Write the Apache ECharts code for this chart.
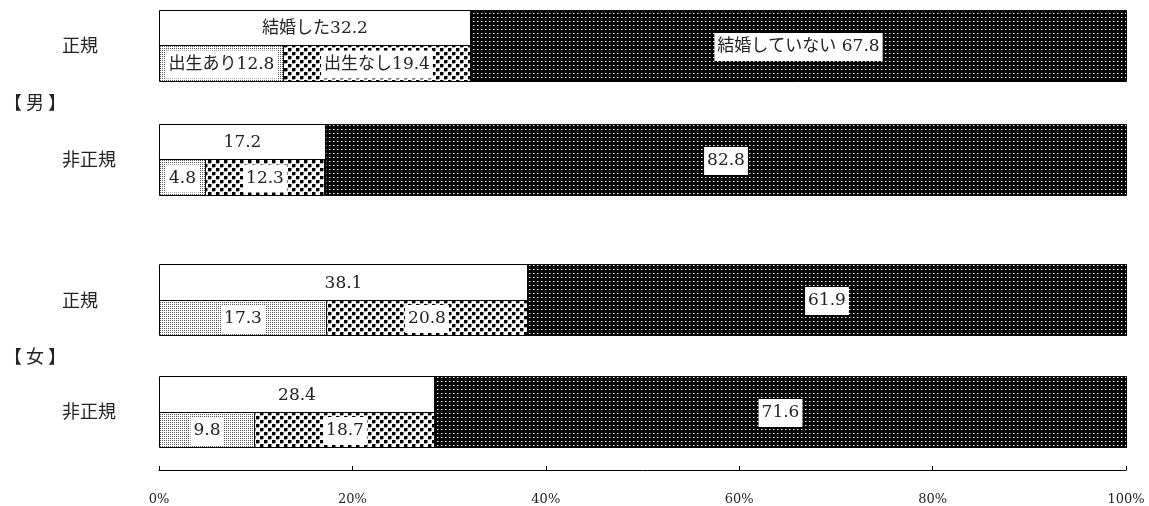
<!DOCTYPE html>
<html>
<head>
<meta charset="utf-8">
<script src="https://cdn.jsdelivr.net/npm/echarts@6/dist/echarts.min.js"></script>
<style>
html,body{margin:0;padding:0;background:#fff;}
#chart{width:1149px;height:506px;}
</style>
</head>
<body>
<div id="chart"></div>
<script>
// ---- data ----
const categories = ['正規', '非正規', '正規', '非正規'];
const sexLabels = ['【 男 】', '【 女 】'];
const segmentNames = ['結婚した', '出生あり', '出生なし', '結婚していない'];
const married = [32.2, 17.2, 38.1, 28.4];
const birthYes = [12.8, 4.8, 17.3, 9.8];
const birthNo = [19.4, 12.3, 20.8, 18.7];
const notMarried = [67.8, 82.8, 61.9, 71.6];
const xTickLabels = ['0%', '20%', '40%', '60%', '80%', '100%'];

// ---- layout (row units on hidden y axis) ----
const groupTop = [0, 3.215, 7.19, 10.35];
const FONT = '"DejaVu Serif","Noto Sans CJK JP",serif';
const LFONT = '"Noto Sans CJK JP",sans-serif';

function makePattern(w, h, bg, rects) {
  const c = document.createElement('canvas');
  c.width = w; c.height = h;
  const ctx = c.getContext('2d');
  ctx.fillStyle = bg; ctx.fillRect(0, 0, w, h);
  rects.forEach(r => { ctx.fillStyle = r[4]; ctx.fillRect(r[0], r[1], r[2], r[3]); });
  return { image: c, repeat: 'repeat' };
}
const patWhite = '#ffffff';
const patStipple = makePattern(2, 2, '#ffffff', [[0, 0, 1, 1, '#555']]);
const patCoarse = makePattern(8, 8, '#ffffff', [[0, 0, 3, 3, '#000'], [4, 4, 3, 3, '#000'], [3, 0, 1, 3, '#888'], [7, 4, 1, 3, '#888'], [0, 3, 3, 1, '#aaa'], [4, 7, 3, 1, '#aaa']]);
const patDark = makePattern(4, 4, '#000000', [[1, 1, 1, 1, '#fff'], [2, 1, 1, 1, '#777']]);
const fills = [patWhite, patStipple, patCoarse, patDark];

// segments: [start, end, group, rowStart, rowEnd, segIndex, value]
function buildSegments(idx) {
  const out = [];
  categories.forEach((c, g) => {
    let s, e, r0, r1, v;
    if (idx === 0) { s = 0; v = married[g]; e = v; r0 = 0; r1 = 1; }
    else if (idx === 1) { s = 0; v = birthYes[g]; e = v; r0 = 1; r1 = 2; }
    else if (idx === 2) { s = birthYes[g]; v = birthNo[g]; e = s + v; r0 = 1; r1 = 2; }
    else { v = notMarried[g]; s = 100 - v; e = 100; r0 = 0; r1 = 2; }
    out.push([s, e, g, r0, r1, idx, v]);
  });
  return out;
}

function labelText(segIdx, g, v) {
  const num = v.toFixed(1);
  if (g !== 0) return num;
  if (segIdx === 3) return segmentNames[segIdx] + ' ' + num;
  return segmentNames[segIdx] + num;
}

function renderSeg(params, api) {
  const s = api.value(0), e = api.value(1), g = api.value(2);
  const r0 = api.value(3), r1 = api.value(4), segIdx = api.value(5), v = api.value(6);
  const p0 = api.coord([s, groupTop[g] + r0]);
  const p1 = api.coord([e, groupTop[g] + r1]);
  const x0 = Math.round(p0[0]) + 0.5, x1 = Math.round(p1[0]) + 0.5;
  const y0 = Math.round(p0[1]) + 0.5, y1 = Math.round(p1[1]) + 0.5;
  return {
    type: 'group',
    children: [
      { type: 'rect', shape: { x: x0, y: y0, width: x1 - x0, height: y1 - y0 },
        style: { fill: fills[segIdx], stroke: '#000', lineWidth: 1 } },
      { type: 'text', z2: 10,
        style: { text: labelText(segIdx, g, v), x: (x0 + x1) / 2, y: (y0 + y1) / 2 + 1,
          align: 'center', verticalAlign: 'middle', font: '17px ' + FONT, fill: '#222',
          backgroundColor: '#fff', padding: [6, 3, 5, 3] } }
    ]
  };
}

function renderLabels(params, api) {
  const children = [];
  categories.forEach((c, g) => {
    const p = api.coord([0, groupTop[g] + 1]);
    children.push({ type: 'text', style: { text: c, x: p[0] - 97, y: p[1], align: 'left', verticalAlign: 'middle', font: '18px ' + LFONT, fill: '#222' } });
  });
  sexLabels.forEach((t, k) => {
    const a = groupTop[k * 2] + 2, b = groupTop[k * 2 + 1];
    const p = api.coord([0, (a + b) / 2]);
    children.push({ type: 'text', style: { text: t, x: p[0] - 155, y: p[1], align: 'left', verticalAlign: 'middle', font: '18px ' + LFONT, fill: '#222' } });
  });
  return { type: 'group', children };
}

const series = segmentNames.map((n, i) => ({
  type: 'custom', name: n, renderItem: renderSeg, data: buildSegments(i),
  encode: { x: [0, 1], y: 3 }
}));
series.push({ type: 'custom', name: 'labels', renderItem: renderLabels, data: [[0, 0]], silent: true });

const chart = echarts.init(document.getElementById('chart'));
chart.setOption({
  animation: false,
  backgroundColor: '#fff',
  grid: { left: 159, right: 23, top: 10, bottom: 35 },
  xAxis: {
    type: 'value', min: 0, max: 100, interval: 20, position: 'bottom',
    axisLine: { show: true, onZero: false, lineStyle: { color: '#000', width: 1 } },
    axisTick: { show: true, inside: true, length: 4, lineStyle: { color: '#000' } },
    splitLine: { show: false },
    axisLabel: { margin: 23, fontSize: 13, fontFamily: FONT, color: '#222',
      formatter: v => xTickLabels[Math.round(v / 20)] }
  },
  yAxis: { type: 'value', min: 0, max: 13, inverse: true, show: false, splitLine: { show: false } },
  series
});
</script>
</body>
</html>
